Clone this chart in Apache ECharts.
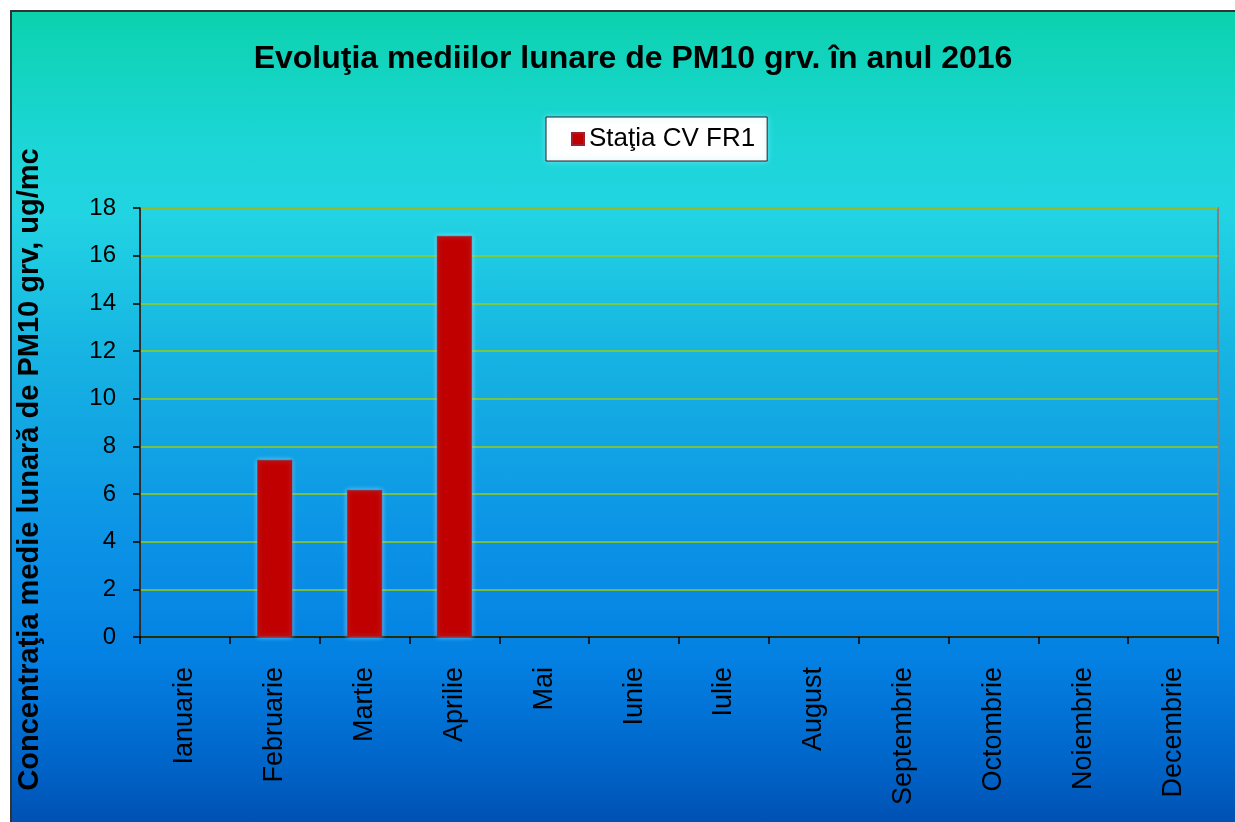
<!DOCTYPE html>
<html>
<head>
<meta charset="utf-8">
<script src="https://cdn.jsdelivr.net/npm/echarts@6/dist/echarts.min.js"></script>
<style>
html,body{margin:0;padding:0;background:#fff;width:1235px;height:822px;overflow:hidden;}
#c{position:absolute;left:10px;top:10px;width:1225px;height:812px;box-sizing:border-box;
border-left:2px solid #333;border-top:2px solid #333;
background:linear-gradient(to bottom,#0cd2ae 0px,#1cd6d6 130px,#22d4e2 200px,#16b2e2 350px,#0c94e6 520px,#0380e2 650px,#0062c6 760px,#0050b2 812px);}
</style>
</head>
<body>
<div id="c"></div>
<script>
const categories = ['Ianuarie','Februarie','Martie','Aprilie','Mai','Iunie','Iulie','August','Septembrie','Octombrie','Noiembrie','Decembrie'];
const values = [null, 7.43, 6.17, 16.83, null, null, null, null, null, null, null, null];
const yTicks = [0, 2, 4, 6, 8, 10, 12, 14, 16, 18];
const seriesName = 'Staţia CV FR1';
const titleText = 'Evoluţia mediilor lunare de PM10 grv. în anul 2016';
const yName = 'Concentraţia medie lunară de PM10 grv, ug/mc';

const chart = echarts.init(document.getElementById('c'), null, {renderer:'canvas'});
chart.setOption({
  backgroundColor: 'transparent',
  animation: false,
  textStyle: {fontFamily: 'Liberation Sans, Arial, sans-serif'},
  title: {
    text: titleText,
    left: 616, top: 26, textAlign: 'center',
    textStyle: {fontSize: 32, fontWeight: 'bold', color: '#000', fontFamily: 'Liberation Sans, Arial, sans-serif'}
  },
  legend: {
    data: [seriesName],
    left: 534, top: 105,
    backgroundColor: '#fff', borderColor: '#222', borderWidth: 1,
    padding: [9, 12, 9, 25],
    itemWidth: 12, itemHeight: 12, itemGap: 5,
    icon: 'rect',
    shadowBlur: 6, shadowColor: 'rgba(120,230,255,0.8)',
    textStyle: {fontSize: 26, color: '#000', fontFamily: 'Liberation Sans, Arial, sans-serif'}
  },
  grid: {
    left: 128, right: 17, top: 196, bottom: 185,
    containLabel: false, outerBoundsMode: 'none',
    show: true, borderColor: '#808080', borderWidth: 2, backgroundColor: 'transparent'
  },
  xAxis: {
    type: 'category',
    data: categories,
    axisLine: {lineStyle: {color: '#000', width: 1.5}},
    axisTick: {show: true, length: 7, lineStyle: {color: '#000', width: 1.5}},
    axisLabel: {rotate: 90, fontSize: 27, color: '#000', margin: 30, interval: 0}
  },
  yAxis: {
    type: 'value',
    min: yTicks[0], max: yTicks[yTicks.length-1], interval: 2,
    name: yName,
    nameLocation: 'middle', nameGap: 96,
    nameTextStyle: {fontSize: 29, fontWeight: 'bold', color: '#000', padding: [0, 94, 0, 0]},
    axisLine: {show: true, lineStyle: {color: '#111', width: 1.5}},
    axisTick: {show: true, length: 7, lineStyle: {color: '#000', width: 1.5}},
    axisLabel: {fontSize: 24, color: '#000', margin: 24},
    splitLine: {lineStyle: {color: '#9acd10', width: 1.5}}
  },
  series: [{
    name: seriesName,
    type: 'bar',
    data: values,
    barWidth: '39%',
    itemStyle: {color: '#c00000', borderColor: '#a02030', borderWidth: 0.5,
      shadowBlur: 5, shadowColor: 'rgba(160,230,255,0.7)'}
  }]
});
</script>
</body>
</html>
